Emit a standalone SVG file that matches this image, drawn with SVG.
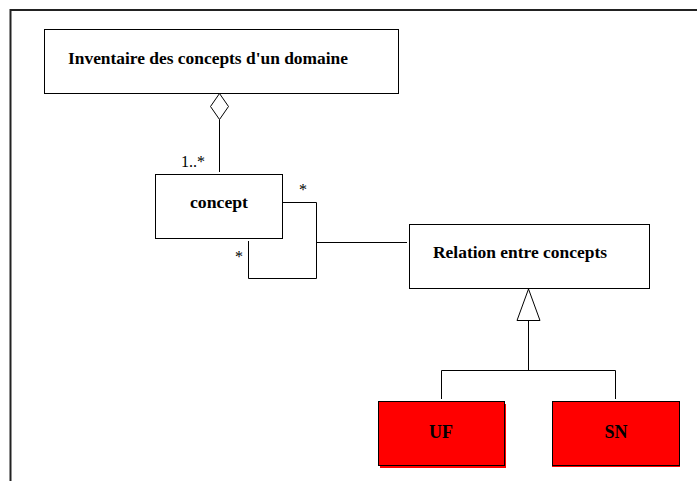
<svg xmlns="http://www.w3.org/2000/svg" width="697" height="481" viewBox="0 0 697 481">
<style>
.box{fill:#fff;stroke:#000;stroke-width:1}
.red{fill:#ff0000;stroke:#000;stroke-width:1}
.shadow{fill:#ff0000}
text{font-family:"Liberation Serif","Times New Roman","DejaVu Serif",serif;fill:#000}
.lbl{font-weight:bold;font-size:16px}
.big{font-weight:bold;font-size:18px}
.mult{font-size:16px}
.ln{fill:none;stroke:#000;stroke-width:1}
</style>
<rect width="697" height="481" fill="#fff"/>
<path d="M10.5,481 V10 H697" fill="none" stroke="#222" stroke-width="2"/>
<g id="inventaire">
<rect class="box" x="44.5" y="29.5" width="354" height="64"/>
<text class="lbl" x="68" y="64" textLength="280" lengthAdjust="spacingAndGlyphs">Inventaire des concepts d'un domaine</text>
</g>
<g id="concept">
<rect class="box" x="155.5" y="174.5" width="127" height="64"/>
<text class="lbl" x="190" y="208" textLength="58" lengthAdjust="spacingAndGlyphs">concept</text>
</g>
<g id="relation">
<rect class="box" x="409.5" y="224.5" width="240" height="64"/>
<text class="lbl" x="433" y="258" textLength="174" lengthAdjust="spacingAndGlyphs">Relation entre concepts</text>
</g>
<g id="uf">
<rect class="shadow" x="380" y="404" width="126" height="64"/>
<rect class="red" x="378.5" y="401.5" width="126" height="64"/>
<text class="big" x="441" y="438" text-anchor="middle">UF</text>
</g>
<g id="sn">
<rect class="shadow" x="552" y="404" width="128" height="63"/>
<rect class="red" x="552.5" y="401.5" width="127" height="64"/>
<text class="big" x="616" y="438" text-anchor="middle">SN</text>
</g>
<g id="connectors">
<polygon class="box" points="219.5,93.5 228.5,106.5 219.5,119.5 210.5,106.5"/>
<line class="ln" x1="219.5" y1="119.5" x2="219.5" y2="172"/>
<text class="mult" x="181" y="167">1..*</text>
<path class="ln" d="M283,202.5 H316.5 V278.5 H248.5 V241"/>
<text class="mult" x="299" y="195">*</text>
<text class="mult" x="235" y="262">*</text>
<line class="ln" x1="316.5" y1="242.5" x2="407" y2="242.5"/>
<polygon class="box" points="528.5,289 540,320.5 517,320.5"/>
<path class="ln" d="M528.5,320.5 V370.5 M441.5,399 V370.5 H615.5 V399"/>
</g>
</svg>
